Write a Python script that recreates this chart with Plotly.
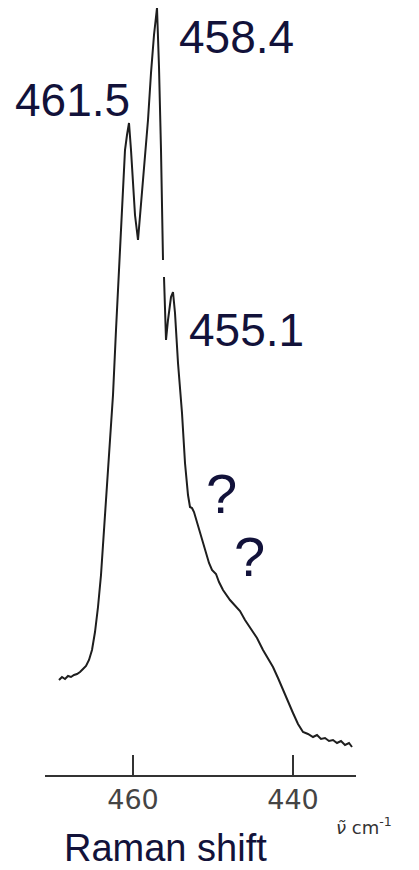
import plotly.graph_objects as go

# Raman shift (cm^-1) and relative intensity (arb. units)
wavenumber = [469.25, 468.875, 468.5, 468.125, 467.75, 467.375, 467.0, 466.625, 466.25, 465.875,
              465.5, 465.125, 464.75, 464.375, 464.0, 463.625, 463.25, 462.875, 462.5, 462.125,
              461.75, 461.375, 461.0, 460.75, 460.5, 460.25, 460.0, 459.75, 459.375, 459.125,
              458.875, 458.5, 458.125, 457.75, 457.375, 457.0, 456.75, 456.5, 456.25, None,
              456.125, 456.0, 455.875, 455.625, 455.25, 455.0, 454.75, 454.375, 453.875, 453.5,
              453.125, 452.875, 452.625, 452.375, 452.0, 451.625, 451.25, 450.875, 450.5, 450.125,
              449.875, 449.625, 449.25, 448.75, 447.875, 447.125, 446.625, 446.0, 445.375, 444.5,
              443.75, 443.125, 442.5, 441.875, 441.25, 440.625, 440.0, 439.375, 438.75, 438.125,
              437.5, 437.0, 436.5, 436.0, 435.5, 435.0, 434.5, 434.0, 433.5, 433.0, 432.625]
intensity = [95, 98, 96, 99, 98, 100, 101, 103, 106, 109,
             115, 125, 143, 168, 200, 240, 290, 335, 380, 445,
             510, 575, 625, 640, 652, 625, 588, 560, 535, 560,
             582, 615, 655, 702, 740, 767, 708, 625, 515, None,
             498, 475, 435, 455, 478, 483, 462, 412, 362, 312,
             280, 268, 267, 263, 253, 243, 232, 222, 212, 205,
             203, 201, 193, 185, 175, 169, 164, 155, 147, 137,
             125, 117, 108, 97, 85, 73, 62, 51, 43, 41,
             38, 40, 36, 37, 34, 35, 32, 34, 30, 32, 28]

tick_values = [460, 440]
tick_labels = ["460", "440"]

peak_labels = ["461.5", "458.4", "455.1", "?", "?"]
label_x = [467.6, 447.1, 445.8, 448.9, 445.4]
label_y = [675, 738, 445, 282, 219]
label_size = [46, 46, 46, 56, 56]

NAVY = "#12123a"

fig = go.Figure()
fig.add_trace(go.Scatter(
    x=wavenumber, y=intensity, mode="lines",
    line=dict(color="#1e1e1e", width=2),
    connectgaps=False, showlegend=False, hoverinfo="skip"))

for t, lx, ly, sz in zip(peak_labels, label_x, label_y, label_size):
    fig.add_annotation(x=lx, y=ly, xref="x", yref="y", text=t, showarrow=False,
                       xanchor="center", yanchor="middle",
                       font=dict(family="Liberation Sans, Arial, sans-serif", size=sz, color=NAVY))

fig.add_annotation(x=0.389, y=-0.0952, xref="paper", yref="paper", text="Raman shift",
                   showarrow=False, xanchor="center", yanchor="middle",
                   font=dict(family="Liberation Sans, Arial, sans-serif", size=38, color=NAVY))
fig.add_annotation(x=1.026, y=-0.0665, xref="paper", yref="paper",
                   text="<i>ν̃</i> cm<sup>-1</sup>",
                   showarrow=False, xanchor="center", yanchor="middle",
                   font=dict(family="DejaVu Sans", size=18, color="#333333"))

# the page body adds an 8 px margin, so the figure is sized to fill the rest
fig.update_layout(
    width=411, height=862,
    margin=dict(l=37, r=63, t=0, b=95),
    paper_bgcolor="white", plot_bgcolor="white",
    xaxis=dict(range=[471.0, 432.125], tickvals=tick_values, ticktext=tick_labels,
               ticks="inside", ticklen=20, tickwidth=1.6, tickcolor="#333333",
               showline=True, linecolor="#333333", linewidth=2,
               showgrid=False, zeroline=False,
               tickfont=dict(family="DejaVu Sans", size=27, color="#444444")),
    yaxis=dict(range=[0, 767], visible=False, showgrid=False, zeroline=False),
)

fig.write_html("out.html")
